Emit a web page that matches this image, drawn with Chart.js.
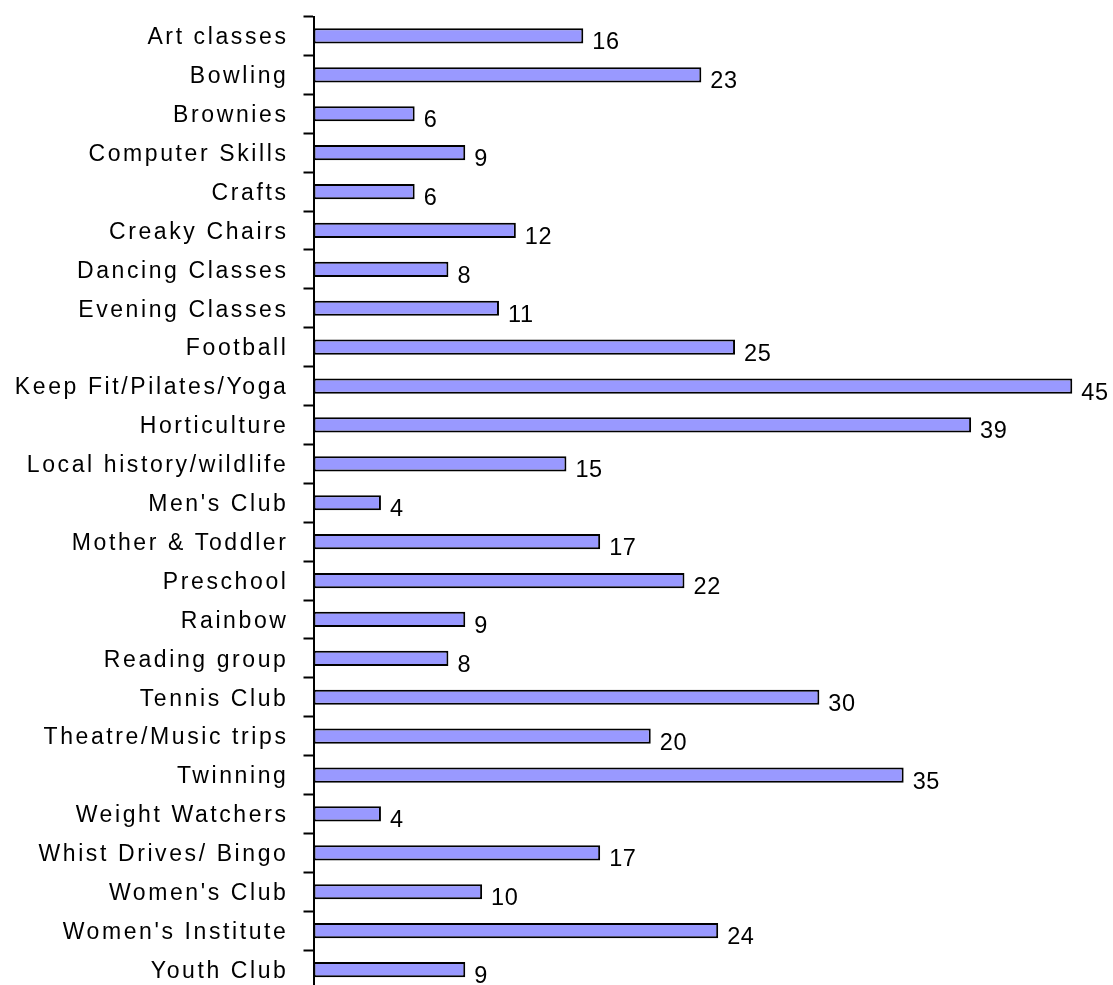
<!DOCTYPE html>
<html>
<head>
<meta charset="utf-8">
<script src="https://cdn.jsdelivr.net/npm/chart.js@4.4.1/dist/chart.umd.min.js"></script>
<style>
  html, body { margin: 0; padding: 0; background: #ffffff; overflow: hidden; }
  #wrap { width: 1113px; height: 1000px; position: relative; }
</style>
</head>
<body>
<div id="wrap"><canvas id="c" width="1113" height="1000"></canvas></div>
<script>
const categories = [
  'Art classes', 'Bowling', 'Brownies', 'Computer Skills', 'Crafts',
  'Creaky Chairs', 'Dancing Classes', 'Evening Classes', 'Football',
  'Keep Fit/Pilates/Yoga', 'Horticulture', 'Local history/wildlife',
  "Men's Club", 'Mother & Toddler', 'Preschool', 'Rainbow', 'Reading group',
  'Tennis Club', 'Theatre/Music trips', 'Twinning', 'Weight Watchers',
  'Whist Drives/ Bingo', "Women's Club", "Women's Institute", 'Youth Club'
];
const values = [16, 23, 6, 9, 6, 12, 8, 11, 25, 45, 39, 15, 4, 17, 22, 9, 8, 30, 20, 35, 4, 17, 10, 24, 9];
const xMin = 0;
const xMax = 47;

const FONT = '"Liberation Sans", Arial, sans-serif';

const spacingPlugin = {
  id: 'spacing',
  beforeDraw(chart) { try { chart.ctx.letterSpacing = '2.6px'; } catch (e) {} },
  afterDraw(chart) { try { chart.ctx.letterSpacing = '0px'; } catch (e) {} }
};

const valueLabels = {
  id: 'valueLabels',
  afterDatasetsDraw(chart) {
    const ctx = chart.ctx;
    const meta = chart.getDatasetMeta(0);
    ctx.save();
    try { ctx.letterSpacing = '0.6px'; } catch (e) {}
    ctx.font = '23.5px ' + FONT;
    ctx.fillStyle = '#000000';
    ctx.textAlign = 'left';
    ctx.textBaseline = 'alphabetic';
    meta.data.forEach((bar, i) => {
      ctx.fillText(String(values[i]), bar.x + 9, bar.y + 13.5);
    });
    ctx.restore();
  }
};

new Chart(document.getElementById('c'), {
  type: 'bar',
  data: {
    labels: categories,
    datasets: [{
      data: values,
      backgroundColor: '#9999FF',
      borderColor: '#000000',
      borderWidth: 2,
      borderSkipped: false,
      barPercentage: 0.39,
      categoryPercentage: 1.0
    }]
  },
  options: {
    indexAxis: 'y',
    responsive: false,
    animation: false,
    devicePixelRatio: 1,
    layout: { padding: { top: 16.5, bottom: 11, left: 0, right: 7 } },
    plugins: { legend: { display: false }, tooltip: { enabled: false } },
    scales: {
      x: {
        display: false,
        min: xMin,
        max: xMax
      },
      y: {
        grid: {
          display: true,
          offset: true,
          drawOnChartArea: false,
          drawTicks: true,
          tickLength: 10,
          tickWidth: 2,
          tickColor: '#000000'
        },
        border: { display: true, color: '#000000', width: 2 },
        ticks: {
          color: '#000000',
          font: { family: FONT, size: 23 },
          padding: 15,
          labelOffset: 2,
          autoSkip: false
        },
        afterFit(scale) {
          scale.width = 313.5;
          scale.paddingTop = 0;
          scale.paddingBottom = 0;
        }
      }
    }
  },
  plugins: [spacingPlugin, valueLabels]
});
</script>
</body>
</html>
